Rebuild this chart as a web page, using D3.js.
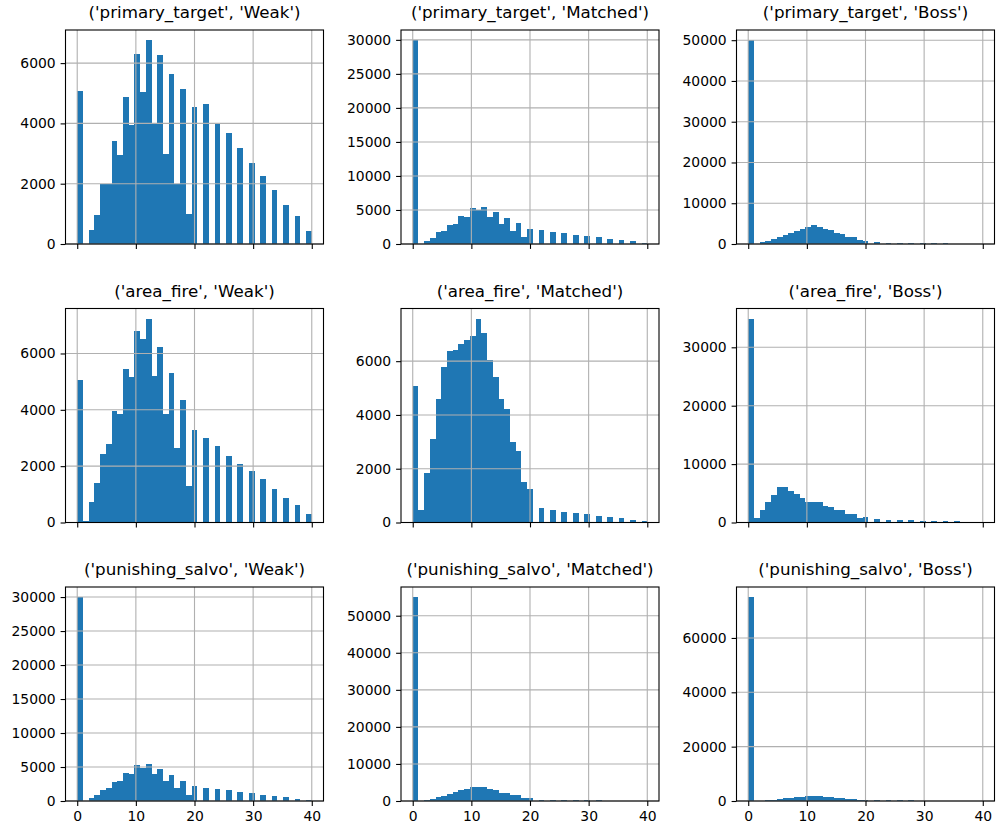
<!DOCTYPE html>
<html lang="en">
<head>
<meta charset="UTF-8">
<title>Histograms</title>
<style>
  body { margin: 0; background: #fff; }
  text { font-family: "DejaVu Sans", sans-serif; fill: #000; }
</style>
</head>
<body>
<script src="https://d3js.org/d3.v7.min.js"></script>
<div id="chart"></div>
<script>
// rows / columns of the grid
var metrics = ["primary_target", "area_fire", "punishing_salvo"];
var groups = ["Weak", "Matched", "Boss"];

// 41 bins spread over 0..40, counts per bin (index = bin)
var binMax = 40, binCount = 41;
var xTicks = [0, 10, 20, 30, 40];

var primaryWeak = [5080, 0, 465, 963, 1980, 1980, 3420, 2956, 4880, 3950,
    6310, 5026, 6760, 4010, 6280, 2990, 5646, 1980, 5148, 1000,
    4550, 0, 4650, 0, 3985, 0, 3686, 0, 3188, 0,
    2690, 0, 2258, 0, 1793, 0, 1295, 0, 930, 0, 432];
var primaryMatched = [29950, 0, 443, 886, 1771, 1919, 2804, 2952, 4133, 3985,
    5314, 4969, 5412, 3985, 4723, 2952, 3838, 1919, 3100, 1033,
    2214, 0, 2066, 0, 1771, 0, 1624, 0, 1328, 0,
    1181, 0, 1033, 0, 738, 0, 590, 0, 443, 0, 148];
var primaryBoss = [50000, 0, 492, 738, 1230, 1721, 2213, 2705, 3197, 3689,
    4180, 4672, 4180, 3689, 3443, 2705, 2459, 1721, 1721, 984,
    738, 0, 492, 0, 246, 0, 246, 0, 246, 0,
    246, 0, 246, 0, 246, 0, 0, 0, 0, 0, 0];
var areaWeak = [5075, 47, 722, 1396, 2425, 2780, 3951, 3845, 5442, 5158,
    6790, 6507, 7235, 5193, 6223, 3845, 5300, 2638, 4342, 1289,
    3277, 0, 2993, 0, 2709, 0, 2354, 0, 2070, 0,
    1822, 0, 1538, 0, 1183, 0, 864, 0, 615, 0, 296];
var areaMatched = [5064, 458, 1832, 3095, 4581, 5769, 6363, 6400, 6623, 6772,
    6920, 7580, 7032, 6029, 5398, 4581, 4209, 2984, 2649, 1498,
    1238, 0, 532, 0, 458, 0, 384, 0, 347, 0,
    310, 0, 235, 0, 198, 0, 161, 0, 87, 0, 50];
var areaBoss = [34900, 743, 2114, 3486, 4686, 6057, 6057, 5371, 4857, 4171,
    3486, 3486, 3486, 2800, 2629, 2114, 2114, 1429, 1429, 743,
    914, 0, 571, 0, 400, 0, 400, 0, 400, 0,
    229, 0, 229, 0, 229, 0, 229, 0, 0, 0, 0];
var salvoWeak = [29980, 0, 443, 887, 1626, 1921, 2808, 2956, 4138, 3990,
    5320, 4926, 5468, 3990, 4729, 2956, 3842, 1921, 2956, 887,
    2217, 0, 1921, 0, 1773, 0, 1626, 0, 1330, 0,
    1182, 0, 887, 0, 739, 0, 591, 0, 296, 0, 148];
var salvoMatched = [55000, 0, 271, 542, 1085, 1356, 1898, 2441, 2983, 3254,
    3797, 3797, 3797, 3254, 2983, 2170, 2170, 1627, 1627, 814,
    814, 0, 271, 0, 271, 0, 271, 0, 271, 0,
    271, 0, 271, 0, 0, 0, 0, 0, 0, 0, 0];
var salvoBoss = [75000, 0, 100, 370, 370, 740, 1109, 1109, 1478, 1478,
    1848, 1848, 1848, 1478, 1478, 1109, 1109, 740, 740, 370,
    370, 0, 246, 0, 246, 0, 246, 0, 246, 0,
    0, 0, 0, 0, 0, 0, 0, 0, 0, 0, 0];

var counts = [
    [primaryWeak, primaryMatched, primaryBoss],
    [areaWeak, areaMatched, areaBoss],
    [salvoWeak, salvoMatched, salvoBoss]
];

var yTicks = [
    [[0, 2000, 4000, 6000], [0, 5000, 10000, 15000, 20000, 25000, 30000], [0, 10000, 20000, 30000, 40000, 50000]],
    [[0, 2000, 4000, 6000], [0, 2000, 4000, 6000], [0, 10000, 20000, 30000]],
    [[0, 5000, 10000, 15000, 20000, 25000, 30000], [0, 10000, 20000, 30000, 40000, 50000], [0, 20000, 40000, 60000]]
];

var width = 1004, height = 834;
var colLeft = [65.5, 401, 736.5],
    rowTop = [30, 308.5, 587];
var plotW = 258, plotH = 214;

var svg = d3.select("#chart")
    .append("svg")
    .attr("width", width)
    .attr("height", height);

metrics.forEach(function(m, r) {
    groups.forEach(function(g, c) {
        var data = counts[r][c];
        var bins = data.map(function(v, i) {
            return { x0: i * binMax / binCount, x1: (i + 1) * binMax / binCount, n: v };
        }).filter(function(d) { return d.n > 0; });

        var x = d3.scaleLinear().domain([-2, 42]).range([0, plotW]);
        var y = d3.scaleLinear().domain([0, d3.max(data) * 1.05]).range([plotH, 0]);

        var ax = svg.append("g")
            .attr("transform", "translate(" + colLeft[c] + "," + rowTop[r] + ")");

        // bars
        ax.selectAll(".bar")
            .data(bins)
            .enter()
            .append("rect")
            .attr("class", "bar")
            .attr("x", function(d) { return x(d.x0); })
            .attr("width", function(d) { return x(d.x1) - x(d.x0); })
            .attr("y", function(d) { return y(d.n); })
            .attr("height", function(d) { return plotH - y(d.n); })
            .attr("fill", "#1f77b4")
            .attr("shape-rendering", "crispEdges");

        // grid sits on top of the bars
        ax.selectAll(".vgrid")
            .data(xTicks)
            .enter()
            .append("line")
            .attr("x1", function(d) { return x(d); })
            .attr("x2", function(d) { return x(d); })
            .attr("y1", 0)
            .attr("y2", plotH)
            .attr("stroke", "#b0b0b0")
            .attr("stroke-width", 1.1);
        ax.selectAll(".hgrid")
            .data(yTicks[r][c])
            .enter()
            .append("line")
            .attr("x1", 0)
            .attr("x2", plotW)
            .attr("y1", function(d) { return y(d); })
            .attr("y2", function(d) { return y(d); })
            .attr("stroke", "#b0b0b0")
            .attr("stroke-width", 1.1);

        // axes
        var yAxis = ax.append("g")
            .call(d3.axisLeft(y).tickValues(yTicks[r][c]).tickFormat(d3.format("d"))
                .tickSize(4.9).tickPadding(4.9));
        var xAxis = ax.append("g")
            .attr("transform", "translate(0," + plotH + ")")
            .call(d3.axisBottom(x).tickValues(xTicks)
                .tickFormat(r == 2 ? d3.format("d") : function() { return ""; })
                .tickSize(4.9).tickPadding(4.9));
        [yAxis, xAxis].forEach(function(a) {
            a.select(".domain").remove();
            a.selectAll("line").attr("stroke", "#000").attr("stroke-width", 1.1);
            a.selectAll("text").style("font-size", "13.9px")
                .style("font-family", "'DejaVu Sans', sans-serif").attr("fill", "#000");
        });

        // frame
        ax.append("rect")
            .attr("width", plotW)
            .attr("height", plotH)
            .attr("fill", "none")
            .attr("stroke", "#000")
            .attr("stroke-width", 1.1);

        // title
        ax.append("text")
            .attr("x", plotW / 2)
            .attr("y", -12)
            .attr("text-anchor", "middle")
            .style("font-size", "16.7px")
            .text("('" + m + "', '" + g + "')");
    });
});
</script>
</body>
</html>
